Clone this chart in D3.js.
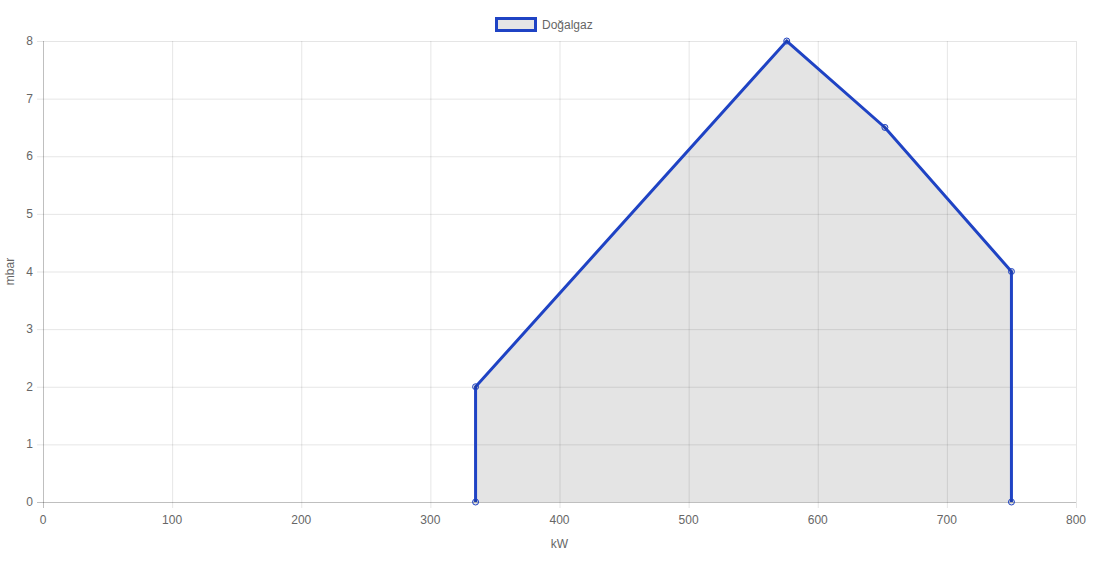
<!DOCTYPE html>
<html><head><meta charset="utf-8">
<script src="https://cdn.jsdelivr.net/npm/d3@7"></script>
<style>body{margin:0;background:#fff}svg{display:block}</style>
</head><body><svg id="c" width="1110" height="564"></svg>
<script>
const seriesName = "Doğalgaz";
const xValues = [335, 335, 576, 652, 750, 750];
const yValues = [0, 2, 8, 6.5, 4, 0];
const xTicks = [0,100,200,300,400,500,600,700,800];
const yTicks = [0,1,2,3,4,5,6,7,8];
const xTitle = "kW", yTitle = "mbar";

const svg = d3.select("#c");
const font = "'Liberation Sans', Arial, Helvetica, sans-serif";
const L = 43, R = 1076, T = 41, B = 502;
const x = d3.scaleLinear().domain([0,800]).range([L,R]);
const y = d3.scaleLinear().domain([0,8]).range([B,T]);
const grid = "rgba(0,0,0,0.1)";

// grid
const g = svg.append("g");
g.selectAll(".vx").data(xTicks).join("line")
 .attr("x1",d=>x(d)+0.5).attr("x2",d=>x(d)+0.5).attr("y1",T).attr("y2",B+6)
 .attr("stroke",d=>d===0?"rgba(0,0,0,0.25)":grid);
g.selectAll(".hy").data(yTicks).join("line")
 .attr("y1",d=>y(d)+0.5).attr("y2",d=>y(d)+0.5).attr("x1",L-6).attr("x2",R)
 .attr("stroke",d=>d===0?"rgba(0,0,0,0.25)":grid);

// area & line
const pts = xValues.map((v,i)=>[v,yValues[i]]);
svg.append("path").datum(pts)
 .attr("d", d3.line().x(d=>x(d[0])).y(d=>y(d[1])))
 .attr("fill","rgba(0,0,0,0.105)").attr("stroke","none");
svg.append("path").datum(pts)
 .attr("d", d3.line().x(d=>x(d[0])).y(d=>y(d[1])))
 .attr("fill","none").attr("stroke","#1f43c4").attr("stroke-width",3).attr("stroke-linejoin","miter");
svg.selectAll(".pt").data(pts).join("circle")
 .attr("cx",d=>x(d[0])).attr("cy",d=>y(d[1])).attr("r",3)
 .attr("fill","rgba(0,0,0,0.1)").attr("stroke","#1f43c4").attr("stroke-width",1);

// tick labels
svg.selectAll(".xl").data(xTicks).join("text")
 .attr("x",d=>x(d)).attr("y",B+22).attr("text-anchor","middle")
 .attr("font-family",font).attr("font-size",12).attr("fill","#666").text(d=>d);
svg.selectAll(".yl").data(yTicks).join("text")
 .attr("x",L-10).attr("y",d=>y(d)+4).attr("text-anchor","end")
 .attr("font-family",font).attr("font-size",12).attr("fill","#666").text(d=>d);

// axis titles
svg.append("text").attr("x",(L+R)/2).attr("y",548).attr("text-anchor","middle")
 .attr("font-family",font).attr("font-size",12).attr("fill","#666").text(xTitle);
svg.append("text").attr("transform",`translate(14,${(T+B)/2}) rotate(-90)`).attr("text-anchor","middle")
 .attr("font-family",font).attr("font-size",12).attr("fill","#666").text(yTitle);

// legend
svg.append("rect").attr("x",496.5).attr("y",18.5).attr("width",39).attr("height",12)
 .attr("fill","rgba(0,0,0,0.1)").attr("stroke","#1f43c4").attr("stroke-width",3);
svg.append("text").attr("x",542).attr("y",28.5)
 .attr("font-family",font).attr("font-size",12).attr("fill","#666").text(seriesName);
</script></body></html>
